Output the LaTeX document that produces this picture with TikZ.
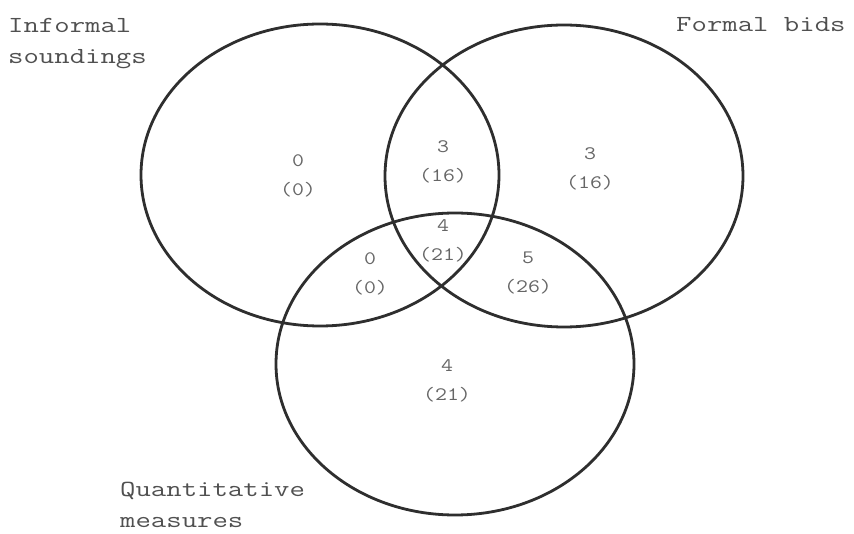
\documentclass[tikz,border=0pt]{standalone}
\usepackage{graphicx}
\usetikzlibrary{shapes.geometric}
\definecolor{linec}{HTML}{2E2E2E}
\definecolor{lblc}{HTML}{505050}
\definecolor{numc}{HTML}{666666}
\newcommand\wdl[1]{\scalebox{1.3}[1]{#1}}
\newcommand\wdn[1]{\scalebox{1.22}[1]{#1}}
\tikzset{
  setc/.style={ellipse, draw=linec, line width=2.8pt, inner sep=0pt,
    minimum width=358pt, minimum height=302pt},
  lbl/.style={text=lblc, font=\fontsize{23}{31}\selectfont\ttfamily,
    align=left, inner sep=0pt},
  num/.style={text=numc, font=\fontsize{19}{29}\selectfont\ttfamily,
    align=center, inner sep=0pt}
}
\begin{document}
\begin{tikzpicture}[x=1pt,y=-1pt]
\useasboundingbox (0,0) rectangle (854,534);
\fill[white] (0,0) rectangle (854,534);
% sets
\node[setc] (L) at (320,175) {};
\node[setc] (R) at (564,176) {};
\node[setc] (B) at (455,364) {};
% labels
\node[lbl, anchor=base west] (lL) at (8,64) {\wdl{Informal}\\\wdl{soundings}};
\node[lbl, anchor=base west] (lR) at (676,32) {\wdl{Formal bids}};
\node[lbl, anchor=base west] (lB) at (120,527) {\wdl{Quantitative}\\\wdl{measures}};
% counts
\node[num] (nL)   at (298,176)   {\wdn{0}\\\wdn{(0)}};
\node[num] (nLR)  at (443,162)   {\wdn{3}\\\wdn{(16)}};
\node[num] (nR)   at (590,168.5) {\wdn{3}\\\wdn{(16)}};
\node[num] (nLRB) at (443,241)   {\wdn{4}\\\wdn{(21)}};
\node[num] (nLB)  at (370,274)   {\wdn{0}\\\wdn{(0)}};
\node[num] (nRB)  at (528,272.5) {\wdn{5}\\\wdn{(26)}};
\node[num] (nB)   at (447,381)   {\wdn{4}\\\wdn{(21)}};
\end{tikzpicture}
\end{document}
